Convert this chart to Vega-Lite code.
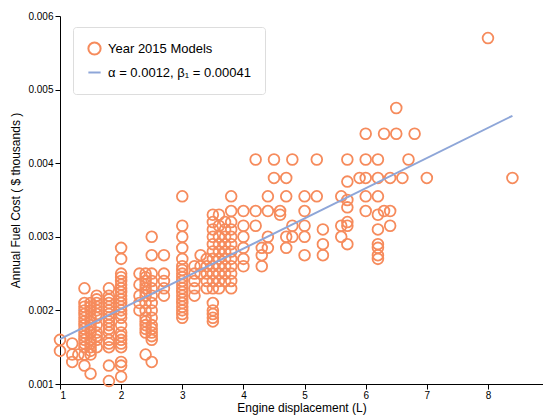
{
  "$schema": "https://vega.github.io/schema/vega-lite/v6.json",
  "width": 483,
  "height": 368,
  "autosize": "none",
  "padding": {"left": 60, "top": 16, "right": 0, "bottom": 34},
  "background": "white",
  "config": {
    "view": {"stroke": null},
    "font": "Liberation Sans",
    "axis": {"domainColor": "#000", "tickColor": "#000", "labelColor": "#000", "titleColor": "#000", "grid": false, "labelFontSize": 10, "titleFontSize": 12, "titleFontWeight": "normal", "tickSize": 5}
  },
  "datasets": {
    "cars": [
      {"displ": 1.0, "cost": 0.0016}, {"displ": 1.0, "cost": 0.00145},
      {"displ": 1.2, "cost": 0.00155}, {"displ": 1.2, "cost": 0.0014}, {"displ": 1.2, "cost": 0.0013},
      {"displ": 1.3, "cost": 0.0014},
      {"displ": 1.4, "cost": 0.0023}, {"displ": 1.4, "cost": 0.0021}, {"displ": 1.4, "cost": 0.00205}, {"displ": 1.4, "cost": 0.002}, {"displ": 1.4, "cost": 0.00195}, {"displ": 1.4, "cost": 0.0019}, {"displ": 1.4, "cost": 0.00185}, {"displ": 1.4, "cost": 0.0018}, {"displ": 1.4, "cost": 0.00175}, {"displ": 1.4, "cost": 0.0017}, {"displ": 1.4, "cost": 0.00165}, {"displ": 1.4, "cost": 0.0016}, {"displ": 1.4, "cost": 0.00155}, {"displ": 1.4, "cost": 0.0015}, {"displ": 1.4, "cost": 0.0014}, {"displ": 1.4, "cost": 0.00125},
      {"displ": 1.5, "cost": 0.0021}, {"displ": 1.5, "cost": 0.00205}, {"displ": 1.5, "cost": 0.002}, {"displ": 1.5, "cost": 0.0019}, {"displ": 1.5, "cost": 0.00185}, {"displ": 1.5, "cost": 0.0018}, {"displ": 1.5, "cost": 0.00175}, {"displ": 1.5, "cost": 0.0017}, {"displ": 1.5, "cost": 0.0016}, {"displ": 1.5, "cost": 0.00155}, {"displ": 1.5, "cost": 0.0015}, {"displ": 1.5, "cost": 0.00145}, {"displ": 1.5, "cost": 0.0014}, {"displ": 1.5, "cost": 0.00114},
      {"displ": 1.6, "cost": 0.0022}, {"displ": 1.6, "cost": 0.00215}, {"displ": 1.6, "cost": 0.0021}, {"displ": 1.6, "cost": 0.00205}, {"displ": 1.6, "cost": 0.002}, {"displ": 1.6, "cost": 0.00195}, {"displ": 1.6, "cost": 0.0019}, {"displ": 1.6, "cost": 0.0018}, {"displ": 1.6, "cost": 0.0017}, {"displ": 1.6, "cost": 0.00165}, {"displ": 1.6, "cost": 0.0016}, {"displ": 1.6, "cost": 0.0015},
      {"displ": 1.8, "cost": 0.0023}, {"displ": 1.8, "cost": 0.0022}, {"displ": 1.8, "cost": 0.00215}, {"displ": 1.8, "cost": 0.0021}, {"displ": 1.8, "cost": 0.00205}, {"displ": 1.8, "cost": 0.002}, {"displ": 1.8, "cost": 0.00195}, {"displ": 1.8, "cost": 0.0019}, {"displ": 1.8, "cost": 0.00185}, {"displ": 1.8, "cost": 0.0018}, {"displ": 1.8, "cost": 0.00175}, {"displ": 1.8, "cost": 0.0017}, {"displ": 1.8, "cost": 0.0016}, {"displ": 1.8, "cost": 0.00155}, {"displ": 1.8, "cost": 0.0015}, {"displ": 1.8, "cost": 0.00125}, {"displ": 1.8, "cost": 0.00104},
      {"displ": 2.0, "cost": 0.00285}, {"displ": 2.0, "cost": 0.0027}, {"displ": 2.0, "cost": 0.0025}, {"displ": 2.0, "cost": 0.00245}, {"displ": 2.0, "cost": 0.0024}, {"displ": 2.0, "cost": 0.00235}, {"displ": 2.0, "cost": 0.0023}, {"displ": 2.0, "cost": 0.00225}, {"displ": 2.0, "cost": 0.0022}, {"displ": 2.0, "cost": 0.00215}, {"displ": 2.0, "cost": 0.0021}, {"displ": 2.0, "cost": 0.00205}, {"displ": 2.0, "cost": 0.002}, {"displ": 2.0, "cost": 0.00195}, {"displ": 2.0, "cost": 0.0019}, {"displ": 2.0, "cost": 0.0018}, {"displ": 2.0, "cost": 0.0017}, {"displ": 2.0, "cost": 0.00165}, {"displ": 2.0, "cost": 0.0016}, {"displ": 2.0, "cost": 0.00155}, {"displ": 2.0, "cost": 0.0015}, {"displ": 2.0, "cost": 0.0013}, {"displ": 2.0, "cost": 0.00125}, {"displ": 2.0, "cost": 0.0011},
      {"displ": 2.3, "cost": 0.0025}, {"displ": 2.3, "cost": 0.00235}, {"displ": 2.3, "cost": 0.0022}, {"displ": 2.3, "cost": 0.0021}, {"displ": 2.3, "cost": 0.002},
      {"displ": 2.4, "cost": 0.0025}, {"displ": 2.4, "cost": 0.00245}, {"displ": 2.4, "cost": 0.0024}, {"displ": 2.4, "cost": 0.00235}, {"displ": 2.4, "cost": 0.0023}, {"displ": 2.4, "cost": 0.00225}, {"displ": 2.4, "cost": 0.0022}, {"displ": 2.4, "cost": 0.0021}, {"displ": 2.4, "cost": 0.002}, {"displ": 2.4, "cost": 0.0019}, {"displ": 2.4, "cost": 0.00185}, {"displ": 2.4, "cost": 0.0018}, {"displ": 2.4, "cost": 0.00175}, {"displ": 2.4, "cost": 0.0017}, {"displ": 2.4, "cost": 0.0014},
      {"displ": 2.5, "cost": 0.003}, {"displ": 2.5, "cost": 0.00275}, {"displ": 2.5, "cost": 0.0025}, {"displ": 2.5, "cost": 0.0024}, {"displ": 2.5, "cost": 0.0023}, {"displ": 2.5, "cost": 0.0022}, {"displ": 2.5, "cost": 0.0021}, {"displ": 2.5, "cost": 0.002}, {"displ": 2.5, "cost": 0.0019}, {"displ": 2.5, "cost": 0.0018}, {"displ": 2.5, "cost": 0.00175}, {"displ": 2.5, "cost": 0.0017}, {"displ": 2.5, "cost": 0.00165}, {"displ": 2.5, "cost": 0.0016}, {"displ": 2.5, "cost": 0.0013},
      {"displ": 2.7, "cost": 0.00275}, {"displ": 2.7, "cost": 0.0025}, {"displ": 2.7, "cost": 0.0024}, {"displ": 2.7, "cost": 0.0023}, {"displ": 2.7, "cost": 0.0022},
      {"displ": 3.0, "cost": 0.00355}, {"displ": 3.0, "cost": 0.00315}, {"displ": 3.0, "cost": 0.003}, {"displ": 3.0, "cost": 0.00285}, {"displ": 3.0, "cost": 0.0027}, {"displ": 3.0, "cost": 0.0026}, {"displ": 3.0, "cost": 0.00255}, {"displ": 3.0, "cost": 0.0025}, {"displ": 3.0, "cost": 0.00245}, {"displ": 3.0, "cost": 0.0024}, {"displ": 3.0, "cost": 0.00235}, {"displ": 3.0, "cost": 0.0023}, {"displ": 3.0, "cost": 0.00225}, {"displ": 3.0, "cost": 0.0022}, {"displ": 3.0, "cost": 0.00215}, {"displ": 3.0, "cost": 0.0021}, {"displ": 3.0, "cost": 0.00205}, {"displ": 3.0, "cost": 0.002}, {"displ": 3.0, "cost": 0.00195}, {"displ": 3.0, "cost": 0.0019},
      {"displ": 3.2, "cost": 0.0026}, {"displ": 3.2, "cost": 0.0025}, {"displ": 3.2, "cost": 0.0024}, {"displ": 3.2, "cost": 0.0023}, {"displ": 3.2, "cost": 0.0022},
      {"displ": 3.3, "cost": 0.00275}, {"displ": 3.3, "cost": 0.0026}, {"displ": 3.3, "cost": 0.0025},
      {"displ": 3.4, "cost": 0.0027}, {"displ": 3.4, "cost": 0.0026}, {"displ": 3.4, "cost": 0.0025}, {"displ": 3.4, "cost": 0.0024}, {"displ": 3.4, "cost": 0.0023},
      {"displ": 3.5, "cost": 0.0033}, {"displ": 3.5, "cost": 0.0032}, {"displ": 3.5, "cost": 0.0031}, {"displ": 3.5, "cost": 0.003}, {"displ": 3.5, "cost": 0.0029}, {"displ": 3.5, "cost": 0.0028}, {"displ": 3.5, "cost": 0.0027}, {"displ": 3.5, "cost": 0.0026}, {"displ": 3.5, "cost": 0.0025}, {"displ": 3.5, "cost": 0.0024}, {"displ": 3.5, "cost": 0.0023}, {"displ": 3.5, "cost": 0.0021}, {"displ": 3.5, "cost": 0.002}, {"displ": 3.5, "cost": 0.00195}, {"displ": 3.5, "cost": 0.0019}, {"displ": 3.5, "cost": 0.00185},
      {"displ": 3.6, "cost": 0.0033}, {"displ": 3.6, "cost": 0.00315}, {"displ": 3.6, "cost": 0.003}, {"displ": 3.6, "cost": 0.0029}, {"displ": 3.6, "cost": 0.0028}, {"displ": 3.6, "cost": 0.0027}, {"displ": 3.6, "cost": 0.0026}, {"displ": 3.6, "cost": 0.0025}, {"displ": 3.6, "cost": 0.0024}, {"displ": 3.6, "cost": 0.0023},
      {"displ": 3.7, "cost": 0.0032}, {"displ": 3.7, "cost": 0.0031}, {"displ": 3.7, "cost": 0.003}, {"displ": 3.7, "cost": 0.0029}, {"displ": 3.7, "cost": 0.0028}, {"displ": 3.7, "cost": 0.0027}, {"displ": 3.7, "cost": 0.0026}, {"displ": 3.7, "cost": 0.0025}, {"displ": 3.7, "cost": 0.0024},
      {"displ": 3.8, "cost": 0.00355}, {"displ": 3.8, "cost": 0.00335}, {"displ": 3.8, "cost": 0.0032}, {"displ": 3.8, "cost": 0.0031}, {"displ": 3.8, "cost": 0.003}, {"displ": 3.8, "cost": 0.0029}, {"displ": 3.8, "cost": 0.0028}, {"displ": 3.8, "cost": 0.0027}, {"displ": 3.8, "cost": 0.0026}, {"displ": 3.8, "cost": 0.0025}, {"displ": 3.8, "cost": 0.0024}, {"displ": 3.8, "cost": 0.0023},
      {"displ": 4.0, "cost": 0.00335}, {"displ": 4.0, "cost": 0.00315}, {"displ": 4.0, "cost": 0.003}, {"displ": 4.0, "cost": 0.00285}, {"displ": 4.0, "cost": 0.0027}, {"displ": 4.0, "cost": 0.0026},
      {"displ": 4.2, "cost": 0.00405}, {"displ": 4.2, "cost": 0.00335}, {"displ": 4.2, "cost": 0.00315},
      {"displ": 4.3, "cost": 0.00285}, {"displ": 4.3, "cost": 0.00275}, {"displ": 4.3, "cost": 0.0026},
      {"displ": 4.4, "cost": 0.00355}, {"displ": 4.4, "cost": 0.00335}, {"displ": 4.4, "cost": 0.003}, {"displ": 4.4, "cost": 0.00285},
      {"displ": 4.5, "cost": 0.00405}, {"displ": 4.5, "cost": 0.0038},
      {"displ": 4.6, "cost": 0.00335}, {"displ": 4.6, "cost": 0.0033},
      {"displ": 4.7, "cost": 0.0038}, {"displ": 4.7, "cost": 0.00355}, {"displ": 4.7, "cost": 0.003}, {"displ": 4.7, "cost": 0.00285},
      {"displ": 4.8, "cost": 0.00405}, {"displ": 4.8, "cost": 0.00315}, {"displ": 4.8, "cost": 0.003},
      {"displ": 5.0, "cost": 0.00355}, {"displ": 5.0, "cost": 0.00335}, {"displ": 5.0, "cost": 0.00315}, {"displ": 5.0, "cost": 0.003}, {"displ": 5.0, "cost": 0.00275},
      {"displ": 5.2, "cost": 0.00405}, {"displ": 5.2, "cost": 0.00355},
      {"displ": 5.3, "cost": 0.0031}, {"displ": 5.3, "cost": 0.0029}, {"displ": 5.3, "cost": 0.00275},
      {"displ": 5.6, "cost": 0.00355}, {"displ": 5.6, "cost": 0.00315}, {"displ": 5.6, "cost": 0.003},
      {"displ": 5.7, "cost": 0.00405}, {"displ": 5.7, "cost": 0.00375}, {"displ": 5.7, "cost": 0.0035}, {"displ": 5.7, "cost": 0.0034}, {"displ": 5.7, "cost": 0.0032}, {"displ": 5.7, "cost": 0.00315}, {"displ": 5.7, "cost": 0.0029},
      {"displ": 5.9, "cost": 0.0038},
      {"displ": 6.0, "cost": 0.0044}, {"displ": 6.0, "cost": 0.00405}, {"displ": 6.0, "cost": 0.0038}, {"displ": 6.0, "cost": 0.00355}, {"displ": 6.0, "cost": 0.00335},
      {"displ": 6.2, "cost": 0.00405}, {"displ": 6.2, "cost": 0.0038}, {"displ": 6.2, "cost": 0.00355}, {"displ": 6.2, "cost": 0.0033}, {"displ": 6.2, "cost": 0.0031}, {"displ": 6.2, "cost": 0.0029}, {"displ": 6.2, "cost": 0.00285}, {"displ": 6.2, "cost": 0.00275}, {"displ": 6.2, "cost": 0.0027},
      {"displ": 6.3, "cost": 0.0044}, {"displ": 6.3, "cost": 0.00335},
      {"displ": 6.4, "cost": 0.0038}, {"displ": 6.4, "cost": 0.00335}, {"displ": 6.4, "cost": 0.00315},
      {"displ": 6.5, "cost": 0.00475}, {"displ": 6.5, "cost": 0.0044},
      {"displ": 6.6, "cost": 0.0038},
      {"displ": 6.7, "cost": 0.00405},
      {"displ": 6.8, "cost": 0.0044},
      {"displ": 7.0, "cost": 0.0038},
      {"displ": 8.0, "cost": 0.0057},
      {"displ": 8.4, "cost": 0.0038}
    ],
    "fit": [
      {"displ": 1.0, "cost": 0.00161},
      {"displ": 8.4, "cost": 0.004644}
    ]
  },
  "encoding": {
    "x": {"field": "displ", "type": "quantitative", "title": "Engine displacement (L)",
      "scale": {"domain": [1, 8.9], "nice": false, "zero": false},
      "axis": {"values": [1, 2, 3, 4, 5, 6, 7, 8], "format": "d", "labelPadding": 1, "titlePadding": 2}},
    "y": {"field": "cost", "type": "quantitative", "title": "Annual Fuel Cost ( $ thousands )",
      "scale": {"domain": [0.001, 0.006], "nice": false, "zero": false},
      "axis": {"values": [0.001, 0.002, 0.003, 0.004, 0.005, 0.006], "format": ".3f", "titlePadding": 5}}
  },
  "layer": [
    {
      "data": {"name": "cars"},
      "mark": {"type": "point", "filled": false, "size": 115, "strokeWidth": 1.8, "opacity": 1, "clip": false},
      "encoding": {
        "color": {"datum": "Year 2015 Models", "type": "nominal",
          "scale": {"domain": ["Year 2015 Models", "α = 0.0012, β₁ = 0.00041"], "range": ["#f68b5c", "#8ea6d8"]},
          "legend": {"title": null, "orient": "none", "legendX": 13, "legendY": 11, "strokeColor": "#dddddd", "fillColor": "white", "cornerRadius": 3, "padding": 14, "symbolSize": 150, "symbolStrokeWidth": 2, "labelFontSize": 13, "rowPadding": 6, "labelColor": "#000", "labelOffset": 6}},
        "shape": {"datum": "Year 2015 Models", "type": "nominal",
          "scale": {"domain": ["Year 2015 Models", "α = 0.0012, β₁ = 0.00041"], "range": ["circle", "stroke"]},
          "legend": {"title": null, "orient": "none", "legendX": 13, "legendY": 11, "strokeColor": "#dddddd", "fillColor": "white", "cornerRadius": 3, "padding": 14, "symbolSize": 150, "symbolStrokeWidth": 2, "labelFontSize": 13, "rowPadding": 6, "labelColor": "#000", "labelOffset": 6}}
      }
    },
    {
      "data": {"name": "fit"},
      "mark": {"type": "line", "strokeWidth": 2},
      "encoding": {
        "color": {"datum": "α = 0.0012, β₁ = 0.00041", "type": "nominal"}
      }
    }
  ]
}
